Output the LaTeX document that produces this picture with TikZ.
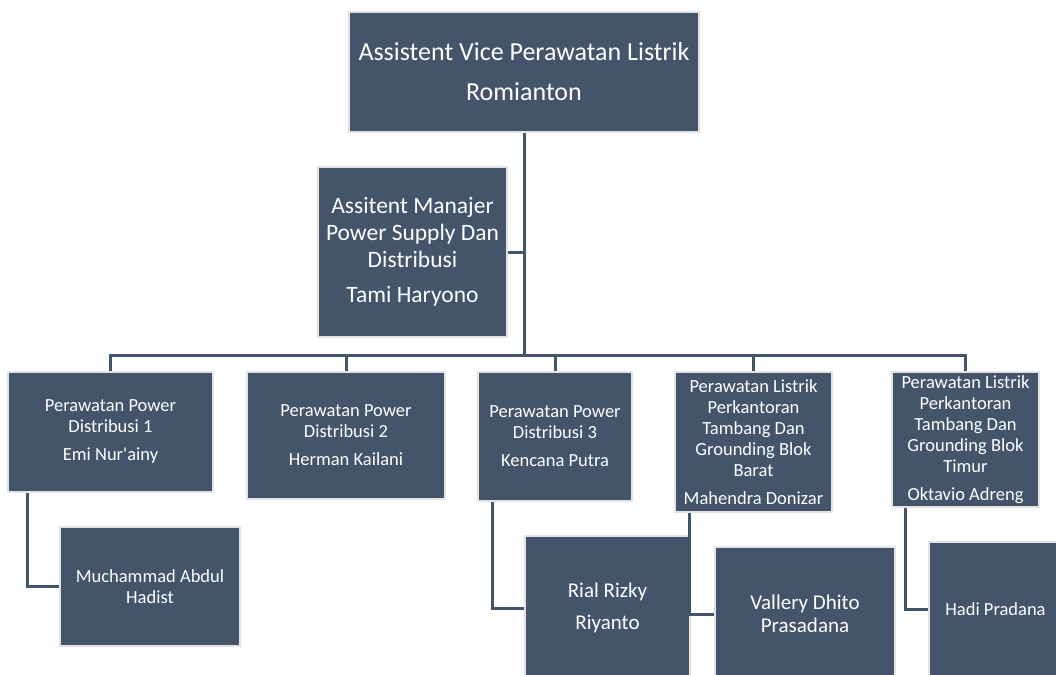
\documentclass[tikz,border=0pt]{standalone}
\usepackage{fontspec}
\setmainfont{Carlito}
\usetikzlibrary{calc}
\definecolor{orgblue}{HTML}{44546A}
\definecolor{orgedge}{HTML}{E3E3E3}

\begin{document}
\begin{tikzpicture}[x=1pt, y=-1pt,
    box/.style={draw=orgedge, line width=2.5pt, fill=orgblue, text=white, align=center, inner sep=2pt},
    link/.style={draw=orgblue, line width=3pt},
    big/.style={font=\fontsize{26}{31}\selectfont},
    mid/.style={font=\fontsize{23.5}{27}\selectfont},
    small/.style={font=\fontsize{18.5}{21}\selectfont},
    wide/.style={font=\fontsize{21}{23.5}\selectfont}]
    \useasboundingbox (0,0) rectangle (1056,674);
    \clip (0,0) rectangle (1056,674);

    % Head
    \node[box, big, minimum width=350pt, minimum height=120pt] (avp) at (524,72)
        {Assistent Vice Perawatan Listrik\\[9pt]Romianton};

    % Assistant manager
    \node[box, mid, minimum width=189pt, minimum height=170pt] (mgr) at (412.5,252)
        {Assitent Manajer\\Power Supply Dan\\Distribusi\\[8pt]Tami Haryono};

    % Sections
    \node[box, small, minimum width=205pt, minimum height=120pt] (pd1) at (110.5,432)
        {Perawatan Power\\Distribusi 1\\[7pt]Emi Nur\textquotesingle ainy};
    \node[box, small, minimum width=198pt, minimum height=127pt] (pd2) at (346,435.5)
        {Perawatan Power\\Distribusi 2\\[7pt]Herman Kailani};
    \node[box, small, minimum width=154pt, minimum height=129pt] (pd3) at (555,436.5)
        {Perawatan Power\\Distribusi 3\\[7pt]Kencana Putra};
    \node[box, small, minimum width=157pt, minimum height=140pt] (plb) at (753.5,442)
        {Perawatan Listrik\\Perkantoran\\Tambang Dan\\Grounding Blok\\Barat\\[7pt]Mahendra Donizar};
    \node[box, small, minimum width=147pt, minimum height=135pt] (plt) at (965.5,439.5)
        {Perawatan Listrik\\Perkantoran\\Tambang Dan\\Grounding Blok\\Timur\\[7pt]Oktavio Adreng};

    % Staff
    \node[box, small, minimum width=180pt, minimum height=119pt] (mah) at (150,586.5)
        {Muchammad Abdul\\Hadist};
    \node[box, wide, minimum width=165pt, minimum height=144pt] (rrr) at (607.5,608)
        {Rial Rizky\\[8pt]Riyanto};
    \node[box, wide, minimum width=180pt, minimum height=134pt] (vdp) at (805,614)
        {Vallery Dhito\\Prasadana};
    \node[box, small, minimum width=133pt, minimum height=134pt] (hpr) at (995.5,609)
        {Hadi Pradana};

    % Connectors
    \coordinate (bar) at (0,355);
    \draw[link] (avp.south) -- (avp.south |- bar);
    \draw[link] (mgr.east) -- (mgr.east -| avp.south);
    \draw[link] (pd1.north) |- (plt.north |- bar) -- (plt.north);
    \draw[link] (pd2.north) -- (pd2.north |- bar);
    \draw[link] (pd3.north) -- (pd3.north |- bar);
    \draw[link] (plb.north) -- (plb.north |- bar);

    \draw[link] ($(pd1.south west)!0.1!(pd1.south east)$) |- (mah.west);
    \draw[link] ($(pd3.south west)!0.1!(pd3.south east)$) |- (rrr.west);
    \draw[link] ($(plb.south west)!0.1!(plb.south east)$) |- (vdp.west);
    \draw[link] ($(plt.south west)!0.1!(plt.south east)$) |- (hpr.west);
\end{tikzpicture}
\end{document}
